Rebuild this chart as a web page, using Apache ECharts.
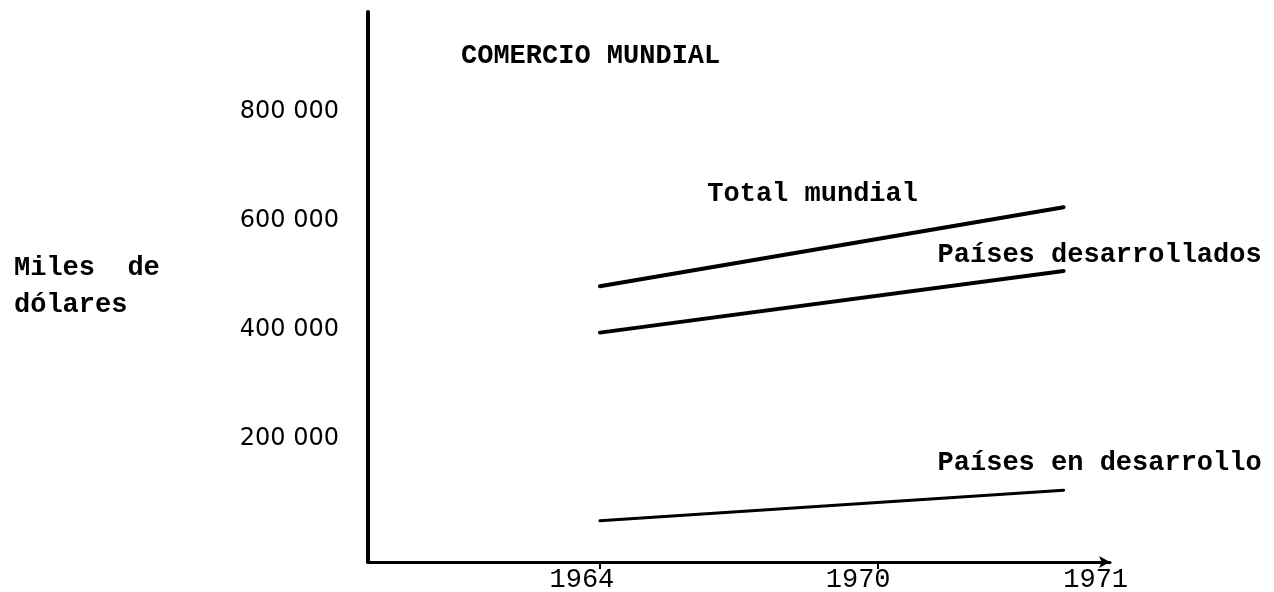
<!DOCTYPE html>
<html>
<head>
<meta charset="utf-8">
<script src="https://cdn.jsdelivr.net/npm/echarts@6/dist/echarts.min.js"></script>
<style>
  html, body { margin: 0; padding: 0; background: #ffffff; }
  #chart { width: 1274px; height: 592px; }
</style>
</head>
<body>
<div id="chart"></div>
<script>
// ---------- data ----------
const chartTitle = 'COMERCIO MUNDIAL';
const yAxisTitle = 'Miles  de\ndólares';
const years = ['1964', '1970', '1971'];
const seriesNames = ['Total mundial', 'Países desarrollados', 'Países en desarrollo'];
const totalMundial = [480000, null, 625000];
const paisesDesarrollados = [395000, null, 508000];
const paisesEnDesarrollo = [50000, null, 106000];
const yTickValues = [200000, 400000, 600000, 800000];

// ---------- layout (hand-drawn axis: category slots) ----------
const SLOT_COUNT = 17;
const yearSlot = [5, 11, 15];
const labelOffsets = [[-251, -13], [36, -16], [36, -27]];
const lineWidths = [4, 4, 3];
const MONO = '"Liberation Mono", "DejaVu Sans Mono", monospace';

const categories = Array.from({ length: SLOT_COUNT }, () => '');
years.forEach((y, i) => { categories[yearSlot[i]] = y; });

function buildSeries(name, values, idx) {
  const arr = Array(SLOT_COUNT).fill(null);
  let last = -1;
  values.forEach((v, i) => { if (v != null) { arr[yearSlot[i]] = v; last = yearSlot[i]; } });
  const data = arr.map((v, i) => {
    if (i !== last) return v;
    return {
      value: v,
      label: {
        show: true,
        position: 'inside',
        offset: labelOffsets[idx],
        formatter: name,
        fontFamily: MONO,
        fontWeight: 'bold',
        fontSize: 27,
        color: '#000'
      }
    };
  });
  return {
    name: name,
    type: 'line',
    data: data,
    connectNulls: true,
    symbol: 'circle',
    symbolSize: 1,
    showSymbol: true,
    itemStyle: { color: '#000' },
    lineStyle: { color: '#000', width: lineWidths[idx], cap: 'round' },
    label: { show: false },
    emphasis: { disabled: true },
    silent: true
  };
}

const chart = echarts.init(document.getElementById('chart'), null, { renderer: 'canvas' });
chart.setOption({
  animation: false,
  backgroundColor: '#ffffff',
  title: {
    text: chartTitle,
    left: 461,
    top: 43,
    padding: 0,
    textStyle: { fontFamily: MONO, fontWeight: 'bold', fontSize: 27, color: '#000' }
  },
  grid: { left: 368, right: 164, top: 12, bottom: 30, containLabel: false, outerBoundsMode: 'none' },
  xAxis: {
    type: 'category',
    data: categories,
    boundaryGap: false,
    axisLine: {
      show: true,
      onZero: false,
      symbol: ['none', 'arrow'],
      symbolSize: [9, 11],
      lineStyle: { color: '#000', width: 3 }
    },
    axisTick: {
      show: true,
      interval: (index, value) => value === '1964' || value === '1970',
      length: 7,
      lineStyle: { color: '#000', width: 2 }
    },
    axisLabel: {
      show: true,
      interval: 0,
      margin: 4,
      color: '#000',
      fontFamily: MONO,
      fontSize: 27,
      formatter: (v) => v ? '{y' + v + '|' + v + '}' : '',
      rich: {
        y1964: { fontFamily: MONO, fontSize: 27, color: '#000', padding: [0, 36, 0, 0] },
        y1970: { fontFamily: MONO, fontSize: 27, color: '#000', padding: [0, 40, 0, 0] },
        y1971: { fontFamily: MONO, fontSize: 27, color: '#000', padding: [0, 0, 0, 64] }
      }
    },
    splitLine: { show: false }
  },
  yAxis: {
    type: 'value',
    min: -25700,
    max: 983000,
    name: yAxisTitle,
    nameLocation: 'middle',
    nameRotate: 0,
    nameGap: 354,
    nameTextStyle: {
      fontFamily: MONO,
      fontWeight: 'bold',
      fontSize: 27,
      lineHeight: 37,
      color: '#000',
      align: 'left',
      verticalAlign: 'middle',
      padding: [0, 0, 7, 0]
    },
    axisLine: { show: true, lineStyle: { color: '#000', width: 4 } },
    axisTick: { show: false },
    splitLine: { show: false },
    axisLabel: {
      show: true,
      customValues: yTickValues,
      margin: 29,
      color: '#000',
      fontFamily: '"DejaVu Sans", sans-serif',
      fontSize: 24,
      formatter: (v) => (v / 1000) + ' 000'
    }
  },
  series: [
    buildSeries(seriesNames[0], totalMundial, 0),
    buildSeries(seriesNames[1], paisesDesarrollados, 1),
    buildSeries(seriesNames[2], paisesEnDesarrollo, 2)
  ]
});
</script>
</body>
</html>
